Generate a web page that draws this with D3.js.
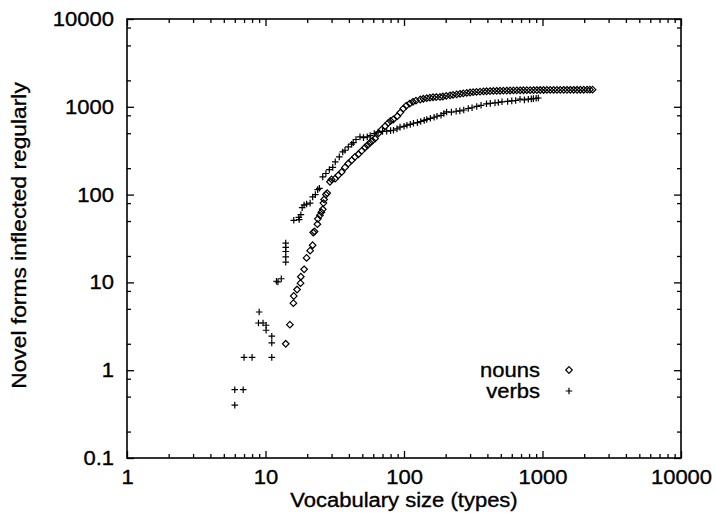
<!DOCTYPE html>
<html><head><meta charset="utf-8">
<script src="https://cdn.jsdelivr.net/npm/d3@7"></script>
<style>
body{margin:0;background:#fff}
text{font-family:"Liberation Sans",Arial,Helvetica,sans-serif;fill:#000;stroke:#000;stroke-width:0.35px}
</style>
</head><body>
<svg id="chart" width="715" height="513"></svg>
<script>
// ---- data ----
const xMajorTicks = [1, 10, 100, 1000, 10000];
const yMajorTicks = [0.1, 1, 10, 100, 1000, 10000];
const xMinorMultipliers = [2, 3, 4, 5, 6, 7, 8, 9];
const yMinorMultipliers = [2, 5, 8];
const xTitle = "Vocabulary size (types)";
const yTitle = "Novel forms inflected regularly";
const legendLabels = ["nouns", "verbs"];

const nouns = [
  [14,2.0],[15,3.3],[15.9,5.8],[16,7.0],[16.9,8.3],[17.9,9.8],[18,11.6],[19,14.1],[19.8,19],[21,23],
  [21.9,26.5],[22.1,37],[22.6,38],[23.7,46],[23.9,53],[24.7,58],[25.3,63],[25.9,68],[26.2,80],[26.5,88],
  [27.3,100],[27.9,104],[29.2,140],[30,149],[31.8,152],[33.5,166],[35.5,181],[37.5,204],[39.6,226],[41.9,246],
  [44.3,269],[46.8,288],[49.5,315],[52.3,344],[54.5,365],[56.8,388],[59,410],[61.8,435],[65.3,497],[69,551],
  [73,601],[77,656],[80,690],[83.7,717],[89.5,781],[94,860],[98.9,955],[104,1030],[110,1089],[116,1140],
  [122,1175],[131,1211],[138,1235],[146,1255],[154,1270],[162,1285],[171,1290],[182,1297],[191,1310],[202,1330],
  [215,1350],[226,1365],[240,1385],[254,1405],[268,1420],[284,1440],[300,1455],[316,1468],[334,1478],[354,1488],
  [375,1496],[395,1503],[418,1510],[442,1515],[467,1520],[494,1524],[522,1528],[552,1531],[584,1534],[617,1537],
  [652,1540],[690,1542],[729,1544],[771,1546],[815,1548],[862,1550],[911,1551],[963,1553],[1018,1554],[1076,1555],
  [1138,1556],[1203,1557],[1272,1558],[1345,1559],[1422,1560],[1503,1561],[1589,1562],[1680,1562],[1776,1563],[1878,1564],
  [1985,1564],[2099,1565],[2200,1566],[2300,1566]
];

const verbs = [
  [6,0.4],[6,0.6],[6.9,0.6],[7,1.4],[8,1.4],[11.1,1.4],[11.1,2.05],[11.1,2.44],[10.1,2.85],[10.1,3.25],
  [8.9,3.45],[9.6,3.45],[9,4.6],[12,10.3],[12.3,10.1],[13,11],[14,17],[14,19.5],[14,22.5],[14,25],
  [14,28],[16,51],[17.4,55],[17.5,52],[18,59],[18.4,71],[19,76],[19.8,78],[21,80],[21.9,94],
  [22.9,100],[23.8,114],[24.5,118],[25.9,159],[27.3,174],[28.9,193],[30.6,204],[31.9,236],[34.1,269],[36.1,306],
  [37.5,320],[39.6,349],[41.9,375],[43,390],[45,424],[48.1,454],[51,445],[54.3,454],[57,470],[61,495],
  [65,514],[70,525],[75,527],[80,535],[84,541],[89,560],[93.6,587],[100,600],[105,617],[111,630],
  [117,650],[125,660],[132,680],[140,700],[146,717],[155,740],[165,760],[173,781],[185,800],[194,840],
  [203,874],[220,870],[238,890],[253,898],[270,920],[291,956],[310,975],[335,1009],[360,1040],[394,1082],
  [420,1095],[454,1109],[480,1120],[510,1140],[560,1150],[600,1168],[640,1180],[688,1221],[740,1200],[790,1221],
  [830,1230],[859,1240],[900,1250],[933,1260]
];

// ---- layout ----
const L = 127, R = 681, T = 19, B = 458;
const FS = 20, STRETCH = 1.1;
const svg = d3.select("#chart");
const x = d3.scaleLog().domain([1, 10000]).range([L, R]);
const y = d3.scaleLog().domain([0.1, 10000]).range([B, T]);

const xMinor = [];
xMajorTicks.slice(0, -1).forEach(d => xMinorMultipliers.forEach(m => xMinor.push(d * m)));
const yMinor = [];
yMajorTicks.slice(0, -1).forEach(d => yMinorMultipliers.forEach(m => yMinor.push(d * m)));

const MAJ = 7, MIN = 4;
const fmt = d => String(d);

function styleAxis(g) {
  g.select(".domain").remove();
  g.selectAll(".tick line").attr("stroke", "#000").attr("stroke-width", 1.3);
}
function styleLabels(g) {
  g.selectAll("text").attr("font-size", FS).attr("font-family", '"Liberation Sans",Arial,sans-serif');
}

// bottom
svg.append("g").attr("transform", `translate(0,${B})`)
  .call(d3.axisBottom(x).tickValues(xMajorTicks).tickFormat(fmt).tickSizeInner(-MAJ).tickSizeOuter(0).tickPadding(12))
  .call(styleAxis).call(styleLabels);
svg.append("g").attr("transform", `translate(0,${B})`)
  .call(d3.axisBottom(x).tickValues(xMinor).tickFormat("").tickSizeInner(-MIN).tickSizeOuter(0))
  .call(styleAxis);
// top
svg.append("g").attr("transform", `translate(0,${T})`)
  .call(d3.axisTop(x).tickValues(xMajorTicks).tickFormat("").tickSizeInner(-MAJ).tickSizeOuter(0))
  .call(styleAxis);
svg.append("g").attr("transform", `translate(0,${T})`)
  .call(d3.axisTop(x).tickValues(xMinor).tickFormat("").tickSizeInner(-MIN).tickSizeOuter(0))
  .call(styleAxis);
// left
svg.append("g").attr("transform", `translate(${L},0)`)
  .call(d3.axisLeft(y).tickValues(yMajorTicks).tickFormat(fmt).tickSizeInner(-MAJ).tickSizeOuter(0).tickPadding(13))
  .call(styleAxis).call(styleLabels);
svg.append("g").attr("transform", `translate(${L},0)`)
  .call(d3.axisLeft(y).tickValues(yMinor).tickFormat("").tickSizeInner(-MIN).tickSizeOuter(0))
  .call(styleAxis);
// right
svg.append("g").attr("transform", `translate(${R},0)`)
  .call(d3.axisRight(y).tickValues(yMajorTicks).tickFormat("").tickSizeInner(-MAJ).tickSizeOuter(0))
  .call(styleAxis);
svg.append("g").attr("transform", `translate(${R},0)`)
  .call(d3.axisRight(y).tickValues(yMinor).tickFormat("").tickSizeInner(-MIN).tickSizeOuter(0))
  .call(styleAxis);

// frame
svg.append("rect")
  .attr("x", x(1)).attr("y", y(10000))
  .attr("width", x(10000) - x(1)).attr("height", y(0.1) - y(10000))
  .attr("fill", "none").attr("stroke", "#000").attr("stroke-width", 1.6);

// markers
const diamond = "M0,-3.3L3.3,0L0,3.3L-3.3,0Z";
const plus = "M-3.3,0H3.3M0,-3.3V3.3";

svg.append("g").selectAll("path").data(nouns).join("path")
  .attr("transform", d => `translate(${x(d[0])},${y(d[1])})`)
  .attr("d", diamond).attr("fill", "none").attr("stroke", "#000").attr("stroke-width", 1.2);

svg.append("g").selectAll("path").data(verbs).join("path")
  .attr("transform", d => `translate(${x(d[0])},${y(d[1])})`)
  .attr("d", plus).attr("fill", "none").attr("stroke", "#000").attr("stroke-width", 1.2);

// legend
const leg = svg.append("g");
legendLabels.forEach((lab, i) => {
  const ly = 370 + i * 21;
  leg.append("text").attr("x", 540).attr("y", ly).attr("dy", "0.35em")
    .attr("text-anchor", "end").attr("font-size", FS).text(lab);
  leg.append("path").attr("transform", `translate(569,${ly})`)
    .attr("d", i === 0 ? diamond : plus).attr("fill", "none").attr("stroke", "#000").attr("stroke-width", 1.2);
});

// titles
svg.append("text").attr("x", (L + R) / 2).attr("y", 507)
  .attr("text-anchor", "middle").attr("font-size", FS).text(xTitle);
svg.append("text").attr("class", "ytitle")
  .attr("transform", `translate(26,${(T + B) / 2 - 3}) rotate(-90)`)
  .attr("text-anchor", "middle").attr("font-size", FS).text(yTitle);

// horizontal stretch of the scanned Helvetica lettering
svg.selectAll("text").each(function() {
  const w = this.getComputedTextLength();
  const k = this.classList.contains("ytitle") ? 1.14 : STRETCH;
  if (w > 0) d3.select(this).attr("textLength", w * k).attr("lengthAdjust", "spacingAndGlyphs");
});
</script>
</body></html>
